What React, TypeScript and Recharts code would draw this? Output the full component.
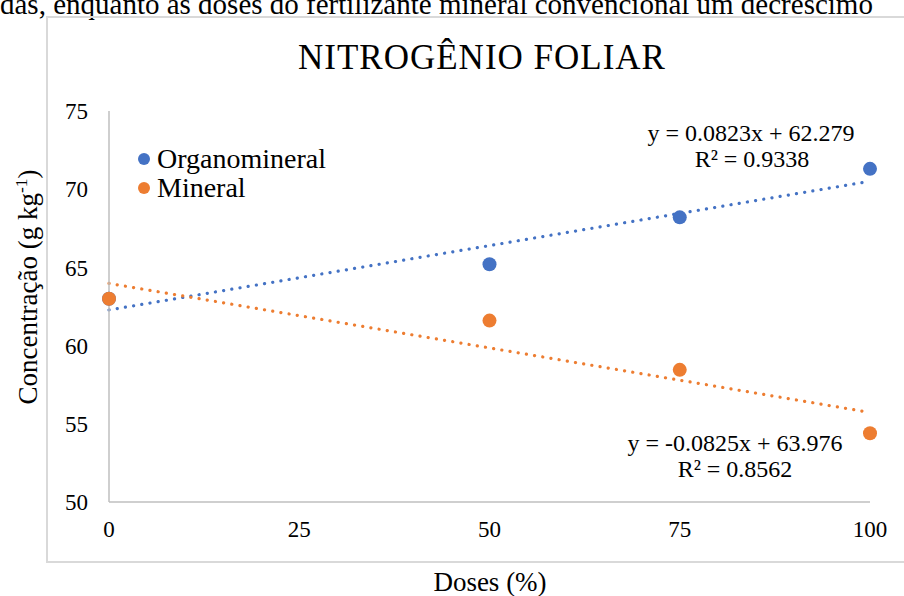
import React from 'react';
import { ComposedChart, Scatter, XAxis, YAxis, ReferenceLine } from 'recharts';

const doses = [0, 50, 75, 100];
const organomineral = [63.0, 65.2, 68.2, 71.3];
const mineral = [63.0, 61.6, 58.45, 54.4];

const xTicks = [0, 25, 50, 75, 100];
const yTicks = [50, 55, 60, 65, 70, 75];

const trendX = [0, 100];
const organoTrend = [62.279, 70.509];
const mineralTrend = [63.976, 55.726];

const organoEq = ['y = 0.0823x + 62.279', 'R² = 0.9338'];
const mineralEq = ['y = -0.0825x + 63.976', 'R² = 0.8562'];

const BLUE = '#4472C4';
const ORANGE = '#ED7D31';
const FONT = "'Liberation Serif', Tinos, 'Times New Roman', Times, 'DejaVu Serif', serif";

const Dot = (props: any) => <circle cx={props.cx} cy={props.cy} r={7} fill={props.fill} />;

const Txt = ({ x, y, size, children, rotate, spacing }: any) => (
  <div
    style={{
      position: 'absolute',
      left: x,
      top: y,
      transform: `translate(-50%, -50%)${rotate ? ` rotate(${rotate}deg)` : ''}`,
      fontFamily: FONT,
      fontSize: size,
      lineHeight: 1,
      whiteSpace: 'nowrap',
      color: '#000',
      letterSpacing: spacing || 0,
    }}
  >
    {children}
  </div>
);

const legendItems = [
  { name: 'Organomineral', color: BLUE },
  { name: 'Mineral', color: ORANGE },
];

export default function App() {
  const organoData = doses.map((x, i) => ({ x, y: organomineral[i] }));
  const mineralData = doses.map((x, i) => ({ x, y: mineral[i] }));
  const dotted = { strokeWidth: 3.2, strokeDasharray: '0.1 8.2', strokeLinecap: 'round' as const };

  return (
    <div style={{ position: 'fixed', left: 0, top: 0, width: 904, height: 596, overflow: 'hidden', background: '#fff' }}>
      <div
        style={{
          position: 'absolute',
          left: 0,
          top: -10,
          fontFamily: FONT,
          fontSize: 29,
          lineHeight: 1,
          whiteSpace: 'nowrap',
        }}
      >
        das, enquanto as doses do fertilizante mineral convencional um decréscimo
      </div>
      <div
        style={{
          position: 'absolute',
          left: 46,
          top: 16,
          width: 920,
          height: 543,
          border: '2px solid #d9d9d9',
        }}
      />
      <div style={{ position: 'absolute', left: 0, top: 0 }}>
        <ComposedChart width={904} height={596} margin={{ top: 111, right: 34, left: 49, bottom: 54 }}>
          <XAxis
            dataKey="x"
            type="number"
            domain={[0, 100]}
            ticks={xTicks}
            height={40}
            tickSize={0}
            tickMargin={19}
            tickLine={false}
            axisLine={{ stroke: '#bfbfbf', strokeWidth: 1.5 }}
            tick={{ fontFamily: FONT, fontSize: 23, fill: '#000' }}
          />
          <YAxis
            dataKey="y"
            type="number"
            domain={[50, 75]}
            ticks={yTicks}
            width={60}
            tickSize={0}
            tickMargin={21}
            tickLine={false}
            axisLine={{ stroke: '#bfbfbf', strokeWidth: 1.5 }}
            tick={{ fontFamily: FONT, fontSize: 23, fill: '#000' }}
          />
          <ReferenceLine
            segment={[{ x: trendX[0], y: organoTrend[0] }, { x: trendX[1], y: organoTrend[1] }]}
            stroke={BLUE}
            {...dotted}
          />
          <ReferenceLine
            segment={[{ x: trendX[0], y: mineralTrend[0] }, { x: trendX[1], y: mineralTrend[1] }]}
            stroke={ORANGE}
            {...dotted}
          />
          <Scatter name="Organomineral" data={organoData} fill={BLUE} shape={Dot} isAnimationActive={false} />
          <Scatter name="Mineral" data={mineralData} fill={ORANGE} shape={Dot} isAnimationActive={false} />
        </ComposedChart>
      </div>

      <Txt x={482} y={57} size={35} spacing={1}>NITROGÊNIO FOLIAR</Txt>
      <Txt x={27} y={287} size={27} rotate={-90}>
        Concentração (g kg<sup style={{ fontSize: '0.65em' }}>-1</sup>)
      </Txt>
      <Txt x={490} y={582} size={27}>Doses (%)</Txt>

      <Txt x={751} y={133} size={24}>{organoEq[0]}</Txt>
      <Txt x={752} y={159} size={24}>{organoEq[1]}</Txt>
      <Txt x={735} y={443} size={24}>{mineralEq[0]}</Txt>
      <Txt x={735} y={469} size={24}>{mineralEq[1]}</Txt>

      {legendItems.map((item, i) => (
        <div
          key={item.name}
          style={{
            position: 'absolute',
            left: 137,
            top: 159 + i * 28.7,
            transform: 'translateY(-50%)',
            display: 'flex',
            alignItems: 'center',
            fontFamily: FONT,
            fontSize: 28,
            lineHeight: 1,
            whiteSpace: 'nowrap',
          }}
        >
          <svg width={14} height={14} style={{ marginRight: 6 }}>
            <circle cx={7} cy={7} r={6} fill={item.color} />
          </svg>
          <span>{item.name}</span>
        </div>
      ))}
    </div>
  );
}
